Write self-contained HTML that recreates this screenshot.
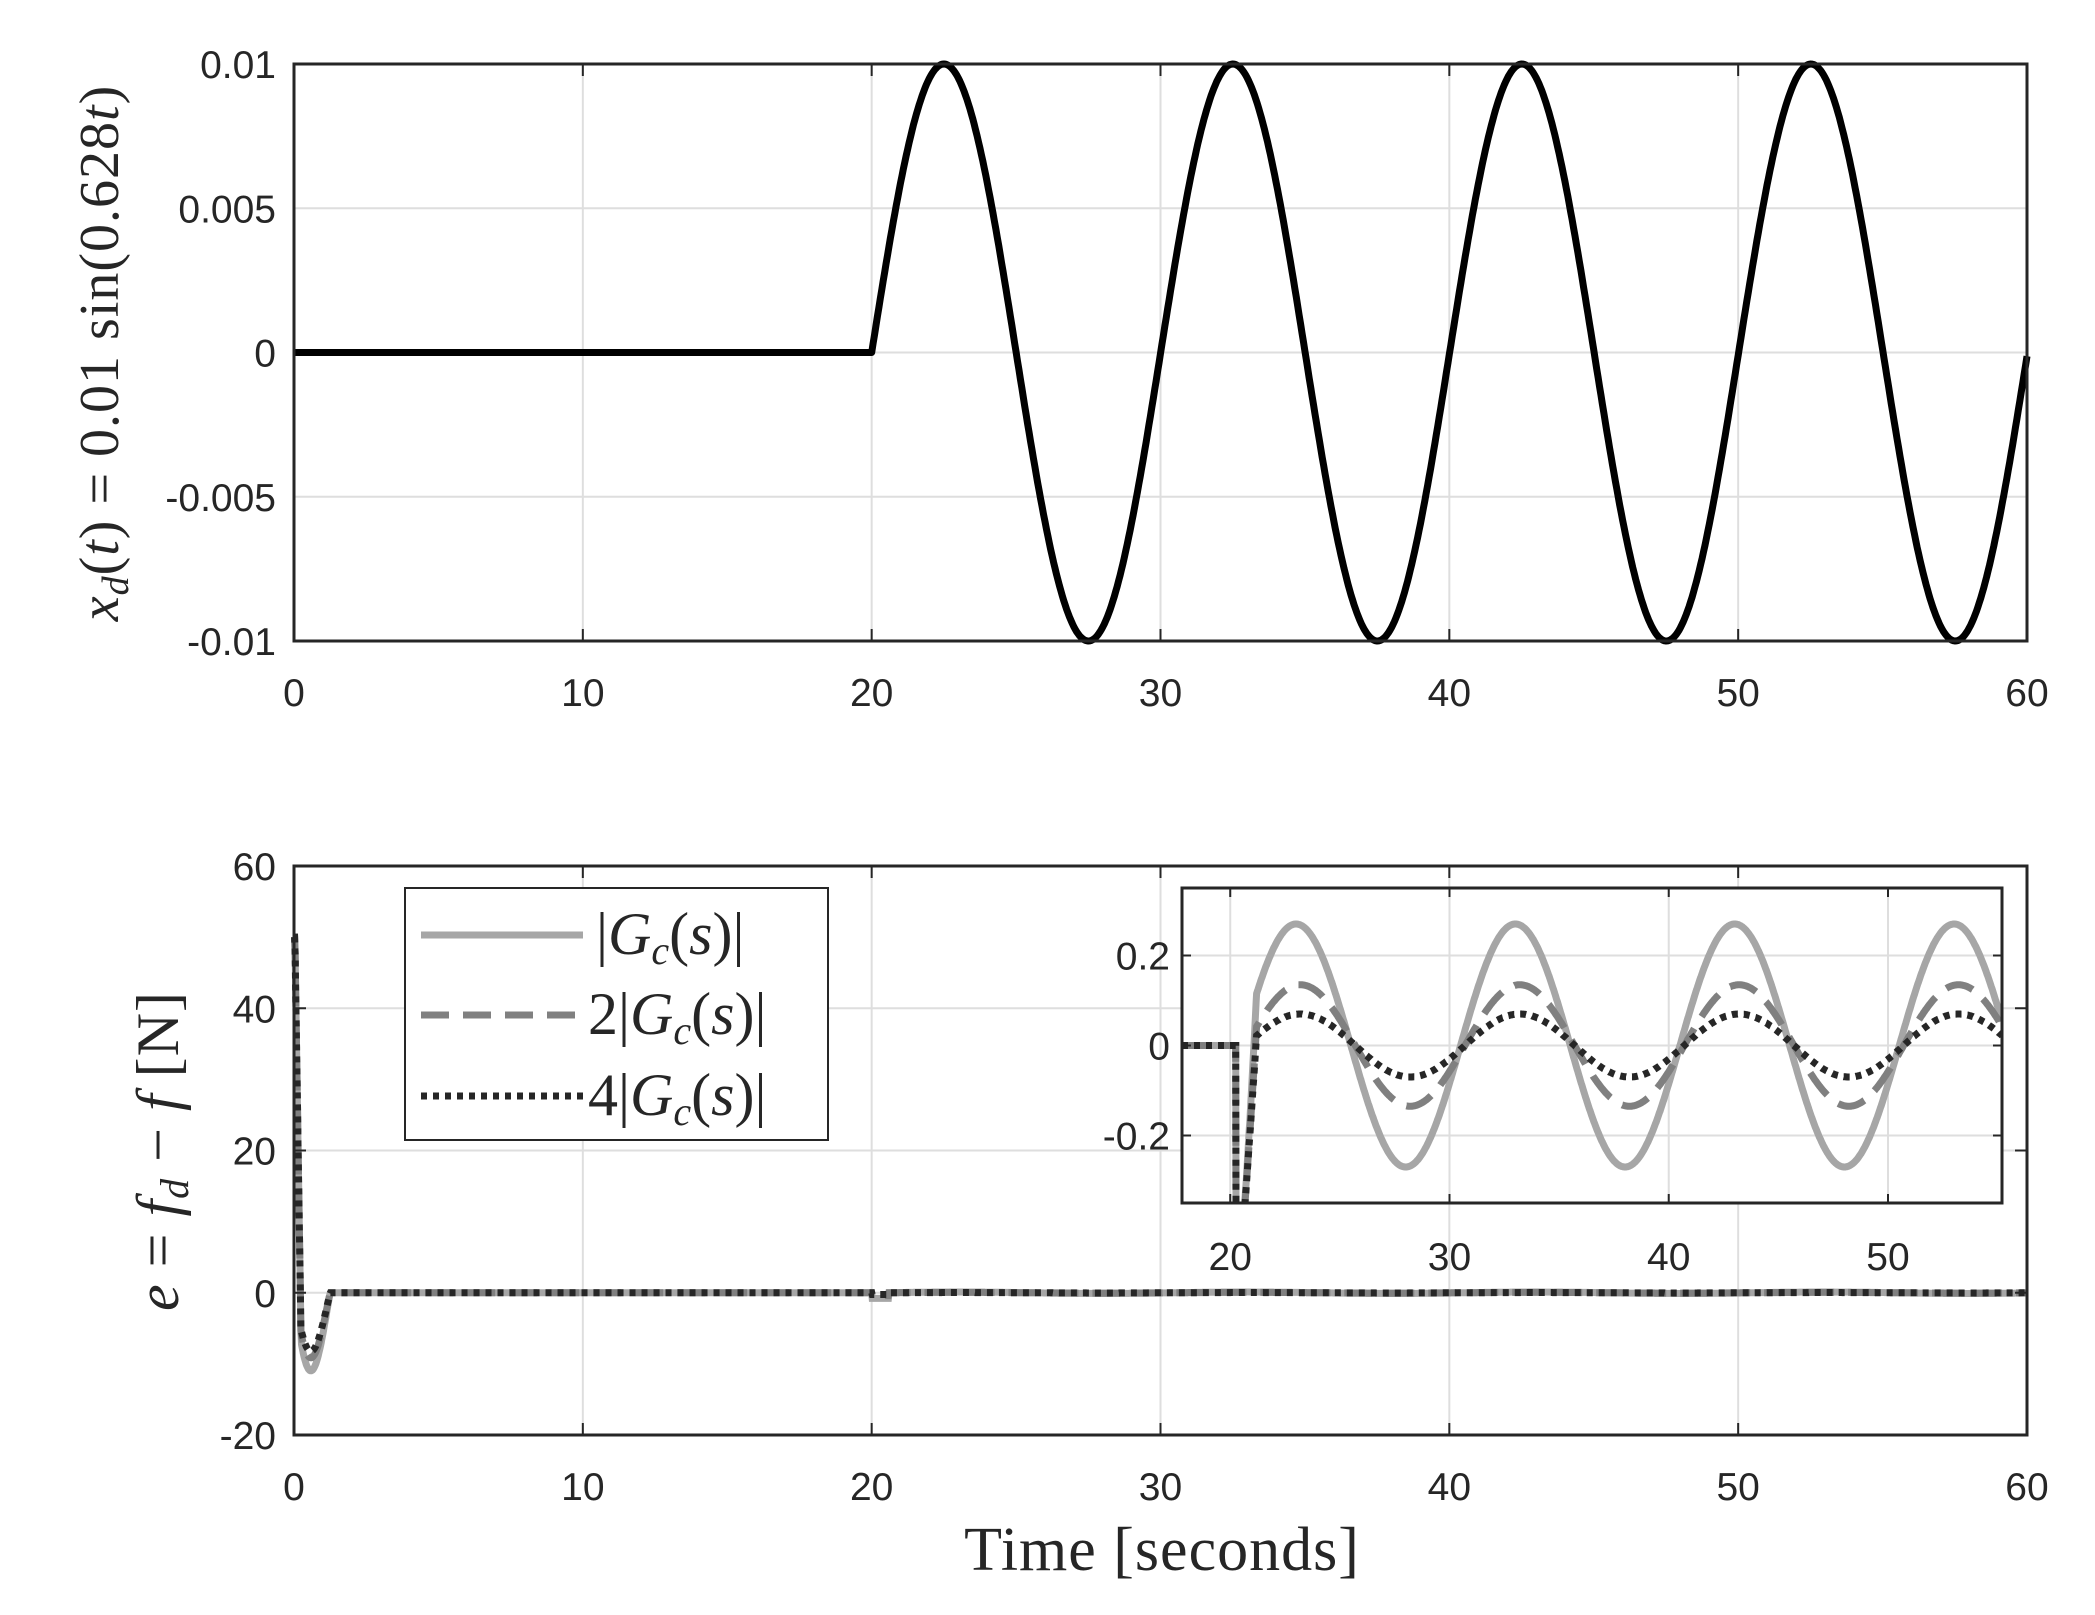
<!DOCTYPE html>
<html><head><meta charset="utf-8"><style>
body{margin:0;background:#fff}
svg{display:block}
text{font-family:"Liberation Sans",sans-serif;fill:#262626}
.s{font-family:"Liberation Serif",serif}
</style></head><body>
<svg id="g" width="2095" height="1615" xmlns="http://www.w3.org/2000/svg"></svg>
<script>
const S=document.getElementById('g');let h='';
const L=294,R=2027,T1=64,B1=641,T2=866,B2=1435,FS=39;
const X=t=>L+(t)*(R-L)/60;
const Y1=v=>T1+(0.01-v)*(B1-T1)/0.02;
const Y2=v=>T2+(60-v)*(B2-T2)/80;
function grid(T,B,ys){
 for(let t=10;t<60;t+=10)h+=`<line x1="${X(t)}" y1="${T}" x2="${X(t)}" y2="${B}" stroke="#dedede" stroke-width="2"/>`;
 ys.forEach(y=>h+=`<line x1="${L}" y1="${y}" x2="${R}" y2="${y}" stroke="#dedede" stroke-width="2"/>`);
}
function path(f,a,b,n,tr){let d='';for(let i=0;i<=n;i++){const t=a+(b-a)*i/n;d+=(i?'L':'M')+tr(t,f(t)).map(v=>v.toFixed(1)).join(',');}return d;}
// top
grid(T1,B1,[Y1(0.005),Y1(0),Y1(-0.005)]);
h+=`<path d="${path(t=>t<20?0:0.01*Math.sin(0.628*(t-20)),0,60,1200,(t,v)=>[X(t),Y1(v)])}" fill="none" stroke="#000" stroke-width="7" stroke-linejoin="round"/>`;
h+=`<rect x="${L}" y="${T1}" width="${R-L}" height="${B1-T1}" fill="none" stroke="#262626" stroke-width="3"/>`;
[[0.01,'0.01'],[0.005,'0.005'],[0,'0'],[-0.005,'-0.005'],[-0.01,'-0.01']].forEach(([v,s])=>h+=`<text x="276" y="${Y1(v)+14}" font-size="${FS}" text-anchor="end">${s}</text>`);
for(let t=0;t<=60;t+=10)h+=`<text x="${X(t)}" y="706" font-size="${FS}" text-anchor="middle">${t}</text>`;
for(let t=10;t<60;t+=10){h+=`<line x1="${X(t)}" y1="${T1}" x2="${X(t)}" y2="${T1+12}" stroke="#262626" stroke-width="2"/><line x1="${X(t)}" y1="${B1}" x2="${X(t)}" y2="${B1-12}" stroke="#262626" stroke-width="2"/>`;}
h+=`<text class="s" transform="translate(118,353) rotate(-90)" font-size="56" text-anchor="middle" letter-spacing="1"><tspan font-style="italic">x</tspan><tspan font-style="italic" font-size="38" dy="10">d</tspan><tspan dy="-10">(</tspan><tspan font-style="italic">t</tspan>) = 0.01 sin(0.628<tspan font-style="italic">t</tspan>)</text>`;
// bottom
grid(T2,B2,[Y2(40),Y2(20),Y2(0)]);
function e(t,k){ if(t<0.03)return 50; if(t<0.25)return 50-(t-0.03)/0.22*58; if(t<1.5){const m=[-12,-10,-9][k];const tt=(t-0.25)/1.25;return m*Math.sin(Math.PI*Math.min(1,tt+0.2))*(1-tt*0.3);} 
 if(t>20&&t<20.6)return -0.8*[1,0.5,0.3][k]; return t>20?0.1*[1,.5,.3][k]*Math.sin(0.628*(t-20.5)):0;}
const st=[['#a6a6a6','',7],['#808080','28 14',7],['#262626','6 6',7]];
st.forEach((s,k)=>h+=`<path d="${path(t=>e(t,k),0,60,3000,(t,v)=>[X(t),Y2(v)])}" fill="none" stroke="${s[0]}" stroke-width="${s[2]}" stroke-dasharray="${s[1]}"/>`);
h+=`<rect x="${L}" y="${T2}" width="${R-L}" height="${B2-T2}" fill="none" stroke="#262626" stroke-width="3"/>`;
[[60,'60'],[40,'40'],[20,'20'],[0,'0'],[-20,'-20']].forEach(([v,s])=>h+=`<text x="276" y="${Y2(v)+14}" font-size="${FS}" text-anchor="end">${s}</text>`);
for(let t=0;t<=60;t+=10)h+=`<text x="${X(t)}" y="1500" font-size="${FS}" text-anchor="middle">${t}</text>`;
for(let t=10;t<60;t+=10){h+=`<line x1="${X(t)}" y1="${T2}" x2="${X(t)}" y2="${T2+12}" stroke="#262626" stroke-width="2"/><line x1="${X(t)}" y1="${B2}" x2="${X(t)}" y2="${B2-12}" stroke="#262626" stroke-width="2"/>`;}
[40,20,0].forEach(v=>h+=`<line x1="${L}" y1="${Y2(v)}" x2="${L+12}" y2="${Y2(v)}" stroke="#262626" stroke-width="2"/><line x1="${R}" y1="${Y2(v)}" x2="${R-12}" y2="${Y2(v)}" stroke="#262626" stroke-width="2"/>`);
h+=`<text class="s" transform="translate(178,1151) rotate(-90)" font-size="60" text-anchor="middle" letter-spacing="1"><tspan font-style="italic">e</tspan> = <tspan font-style="italic">f</tspan><tspan font-style="italic" font-size="40" dy="10">d</tspan><tspan dy="-10"> − </tspan><tspan font-style="italic">f</tspan> [N]</text>`;
h+=`<text class="s" x="1162" y="1570" font-size="62" text-anchor="middle" letter-spacing="1">Time [seconds]</text>`;
// legend
h+=`<rect x="405" y="888" width="423" height="252" fill="#fff" stroke="#262626" stroke-width="2"/>`;
const g='<tspan font-style="italic">G</tspan><tspan font-style="italic" font-size="40" dy="10">c</tspan><tspan dy="-10">(</tspan><tspan font-style="italic">s</tspan>)|';
const lab=['|'+g,'2|'+g,'4|'+g];
[935,1015,1096].forEach((y,k)=>{h+=`<line x1="421" y1="${y}" x2="583" y2="${y}" stroke="${st[k][0]}" stroke-width="7" stroke-dasharray="${st[k][1]}"/><text class="s" x="${k?588:596}" y="${y+19}" font-size="60">${lab[k]}</text>`;});
// inset
const IL=1182,IR=2002,IT=888,IB=1203,x0=17.8,x1=55.2;
const IX=t=>IL+(t-x0)*(IR-IL)/(x1-x0), IY=v=>IT+(0.35-v)*(IB-IT)/0.7;
h+=`<rect x="${IL}" y="${IT}" width="${IR-IL}" height="${IB-IT}" fill="#fff"/>`;
[20,30,40,50].forEach(t=>h+=`<line x1="${IX(t)}" y1="${IT}" x2="${IX(t)}" y2="${IB}" stroke="#dedede" stroke-width="2"/>`);
[0.2,0,-0.2].forEach(v=>h+=`<line x1="${IL}" y1="${IY(v)}" x2="${IR}" y2="${IY(v)}" stroke="#dedede" stroke-width="2"/>`);
h+=`<clipPath id="c"><rect x="${IL}" y="${IT}" width="${IR-IL}" height="${IB-IT}"/></clipPath>`;
const amp=[0.27,0.135,0.07],ph=[20.5,20.7,20.7];
function ie(t,k){ if(t<20.25)return 0; if(t<20.45)return -0.5; const a=amp[k]*Math.sin(0.628*(t-ph[k])); if(t<21.2){const w=(t-20.45)/0.75;return -0.5*(1-w)+a*w;} return a;}
st.forEach((s,k)=>h+=`<path clip-path="url(#c)" d="${path(t=>ie(t,k),x0,x1,2000,(t,v)=>[IX(t),IY(v)])}" fill="none" stroke="${s[0]}" stroke-width="7" stroke-dasharray="${s[1]}"/>`);
h+=`<rect x="${IL}" y="${IT}" width="${IR-IL}" height="${IB-IT}" fill="none" stroke="#262626" stroke-width="3"/>`;
[20,30,40,50].forEach(t=>h+=`<line x1="${IX(t)}" y1="${IT}" x2="${IX(t)}" y2="${IT+9}" stroke="#262626" stroke-width="2"/><line x1="${IX(t)}" y1="${IB}" x2="${IX(t)}" y2="${IB-9}" stroke="#262626" stroke-width="2"/><text x="${IX(t)}" y="1270" font-size="${FS}" text-anchor="middle">${t}</text>`);
[[0.2,'0.2'],[0,'0'],[-0.2,'-0.2']].forEach(([v,s])=>h+=`<line x1="${IL}" y1="${IY(v)}" x2="${IL+9}" y2="${IY(v)}" stroke="#262626" stroke-width="2"/><line x1="${IR}" y1="${IY(v)}" x2="${IR-9}" y2="${IY(v)}" stroke="#262626" stroke-width="2"/><text x="${IL-12}" y="${IY(v)+14}" font-size="${FS}" text-anchor="end">${s}</text>`);
S.innerHTML=h;
</script>
</body></html>
